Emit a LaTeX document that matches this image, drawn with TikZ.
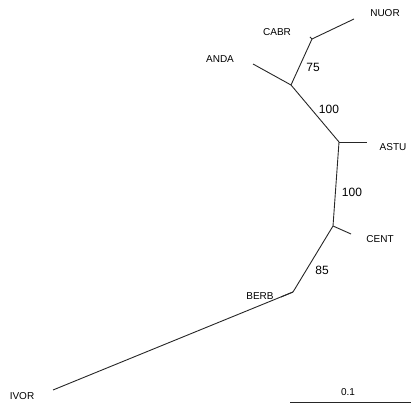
\documentclass[tikz,border=0pt]{standalone}
\usepackage{fontspec}
\setmainfont{Liberation Sans}
\begin{document}
\begin{tikzpicture}[x=1pt,y=1pt,
  br/.style={draw=black!85,line width=0.9pt},
  tip/.style={font=\fontsize{10}{11}\selectfont,inner sep=0pt},
  boot/.style={font=\fontsize{12}{13}\selectfont,inner sep=0pt}]
\useasboundingbox (0,0) rectangle (411,403);
% internal nodes (y = 403 - pixel row)
\coordinate (n1) at (312,364);
\coordinate (n2) at (291,318);
\coordinate (n3) at (339,261);
\coordinate (n4) at (333,177);
\coordinate (n5) at (293,111);
% tips
\coordinate (nuor) at (354,384);
\coordinate (cabr) at (310,366);
\coordinate (anda) at (253,339);
\coordinate (astu) at (367,261);
\coordinate (cent) at (351,169);
\coordinate (berb) at (281,106);
\coordinate (ivor) at (53,13);
\draw[br] (n1) -- (nuor);
\draw[br] (n1) -- (cabr);
\draw[br] (n2) -- (n1);
\draw[br] (n2) -- (anda);
\draw[br] (n3) -- (n2);
\draw[br] (n3) -- (astu);
\draw[br] (n4) -- (n3);
\draw[br] (n4) -- (cent);
\draw[br] (n5) -- (n4);
\draw[br] (n5) -- (berb);
\draw[br] (n5) -- (ivor);
% tip labels
\node[tip] (lnuor) at (385,390) {NUOR};
\node[tip] (lcabr) at (277,371) {CABR};
\node[tip] (landa) at (220,344) {ANDA};
\node[tip] (lastu) at (393,256) {ASTU};
\node[tip] (lcent) at (380,164) {CENT};
\node[tip] (lberb) at (260,107) {BERB};
\node[tip] (livor) at (22,7) {IVOR};
% bootstrap values
\node[boot] (b75) at (313,336) {75};
\node[boot] (b100a) at (329,294) {100};
\node[boot] (b100b) at (352,211) {100};
\node[boot] (b85) at (322,133) {85};
% scale bar
\coordinate (s1) at (290,1);
\coordinate (s2) at (411,1);
\draw[br] (s1) -- (s2);
\node[tip] (lscale) at (348,11) {0.1};
\end{tikzpicture}
\end{document}
